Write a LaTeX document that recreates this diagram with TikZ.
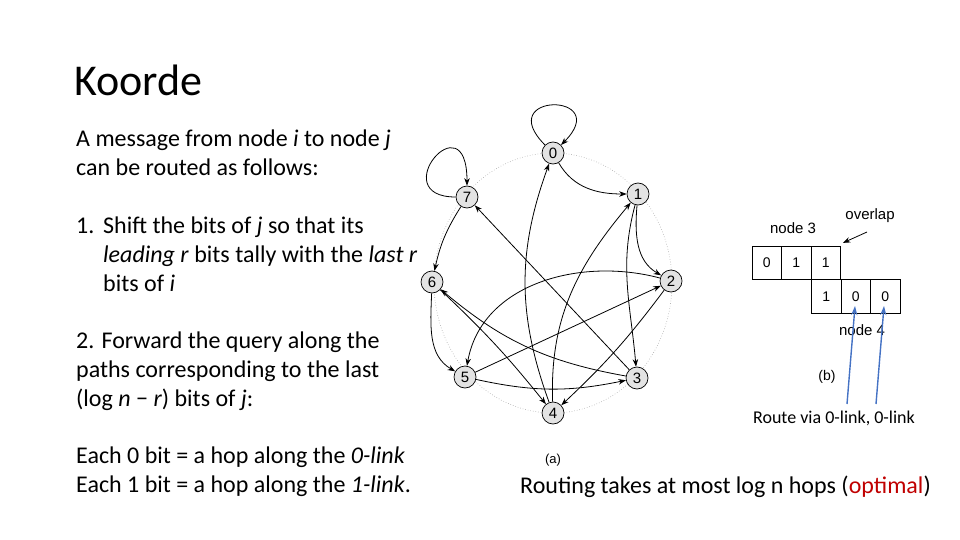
\documentclass[tikz,border=0pt]{standalone}
\usepackage{fontspec}
\setmainfont{Carlito}
\newfontfamily\arialf{Liberation Sans}
\usetikzlibrary{arrows.meta,calc}
\definecolor{blueC}{HTML}{4472C4}
\definecolor{optred}{HTML}{C00000}
\begin{document}
\begin{tikzpicture}[x=1pt,y=-1pt,
  gnode/.style={circle,draw,line width=0.7pt,fill=gray!22,minimum size=22pt,inner sep=0pt,font=\arialf\fontsize{15}{15}\selectfont},
  garr/.style={-{Stealth[length=7.5pt,width=5.5pt]},line width=0.8pt},
  body/.style={anchor=base west,inner sep=0pt,font=\fontsize{24}{28.8}\selectfont},
  cell/.style={draw,line width=0.7pt,minimum width=29.5pt,minimum height=33.5pt,inner sep=0pt,font=\arialf\fontsize{14}{14}\selectfont},
  lab/.style={inner sep=0pt,font=\arialf\fontsize{15}{15}\selectfont},
  bluearr/.style={-{Stealth[length=9pt,width=6pt]},line width=1.4pt,draw=blueC}
]
\useasboundingbox (0,0) rectangle (960,540);
% title
\node[anchor=base west,inner sep=0pt,font=\fontsize{44}{44}\selectfont] (title) at (74,96) {Koorde};
% body text
\node[body] (l1) at (76,147) {A message from node \textit{i} to node \textit{j}};
\node[body] (l2) at (76,175.8) {can be routed as follows:};
\node[body] (l3n) at (76,233.4) {1.};
\node[body] (l3) at (103,233.4) {Shift the bits of \textit{j} so that its};
\node[body] (l4) at (103,262.2) {\textit{leading r} bits tally with the \textit{last r}};
\node[body] (l5) at (103,291) {bits of \textit{i}};
\node[body] (l6) at (76,348.6) {2. Forward the query along the};
\node[body] (l7) at (76,377.4) {paths corresponding to the last};
\node[body] (l8) at (76,406.2) {(log \textit{n} − \textit{r}) bits of \textit{j}:};
\node[body] (l9) at (76,463.8) {Each 0 bit = a hop along the \textit{0-link}};
\node[body] (l10) at (76,492.6) {Each 1 bit = a hop along the \textit{1-link}.};
% dotted ring
\draw[gray!70,dotted,line width=0.6pt] (553,283) ellipse [x radius=119pt, y radius=130pt];
% graph nodes
\node[gnode] (n0) at (553,153) {0};
\node[gnode] (n1) at (638,194) {1};
\node[gnode] (n2) at (671,281) {2};
\node[gnode] (n3) at (637,378) {3};
\node[gnode] (n4) at (553,413) {4};
\node[gnode] (n5) at (465,377) {5};
\node[gnode] (n6) at (432,282) {6};
\node[gnode] (n7) at (467,197) {7};
% edges
\draw[garr] (n0) to[out=135,in=45,out distance=75pt,in distance=75pt] (n0);
\draw[garr] (n7) to[out=180,in=90,out distance=72pt,in distance=88pt] (n7);
\draw[garr] (n0) to[out=-60,in=180] (n1);
\draw[garr] (n1) to[out=-95,in=150] (n2);
\draw[garr] (n1) to[out=-105,in=95] (n3);
\draw[garr] (n2) to[bend left=5] (n4);
\draw[garr] (n2) to[out=165,in=80] (n5);
\draw[garr] (n3) to[bend left=15] (n6);
\draw[garr] (n3) -- (n7);
\draw[garr] (n4) to[bend left=20] (n0);
\draw[garr] (n4) to[out=92,in=-130] (n1);
\draw[garr] (n5) -- (n2);
\draw[garr] (n5) to[bend right=12] (n3);
\draw[garr] (n6) to[bend left=4] (n4);
\draw[garr] (n6) to[out=-92,in=150] (n5);
\draw[garr] (n7) to[bend right=10] (n6);
\node[lab,font=\arialf\fontsize{13}{13}\selectfont] (alab) at (553,460) {(a)};
% right panel
\node[cell] (c1) at (766.75,263) {0};
\node[cell] (c2) at (796.25,263) {1};
\node[cell] (c3) at (825.75,263) {1};
\node[cell] (d1) at (826.25,296.5) {1};
\node[cell] (d2) at (855.75,296.5) {0};
\node[cell] (d3) at (885.25,296.5) {0};
\node[lab] (n3lab) at (793,228) {node 3};
\node[lab] (ovl) at (870,216) {overlap};
\node[lab] (n4lab) at (862,330) {node 4};
\node[lab,font=\arialf\fontsize{14}{14}\selectfont] (blab) at (827,377) {(b)};
\coordinate (ovt) at (867,232);
\draw[garr] (ovt) -- ($(c3.north east)+(2,-3)$);
\coordinate (b1s) at (847,404);
\coordinate (b1e) at (855,306);
\coordinate (b2s) at (876,404);
\coordinate (b2e) at (884,306);
\draw[bluearr] (b1s) -- (b1e);
\draw[bluearr] (b2s) -- (b2e);
\node[inner sep=0pt,font=\fontsize{18}{18}\selectfont] (route) at (834,418) {Route via 0-link, 0-link};
\node[inner sep=0pt,font=\fontsize{24}{24}\selectfont] (routing) at (725.5,487) {Routing takes at most log n hops (\textcolor{optred}{optimal})};
\end{tikzpicture}
\end{document}
